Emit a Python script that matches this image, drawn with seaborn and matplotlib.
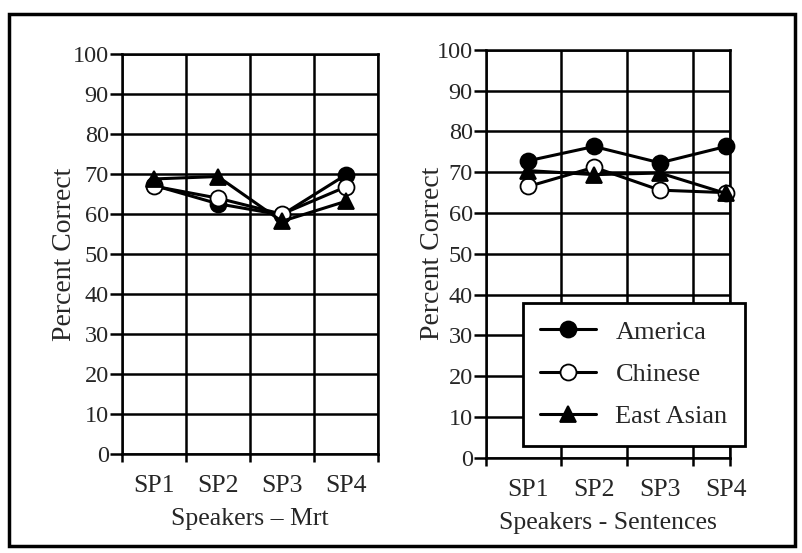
import numpy as np
import pandas as pd
import matplotlib
matplotlib.use("Agg")
import matplotlib.pyplot as plt
import seaborn as sns
from matplotlib.patches import Rectangle

# data
speakers = ["SP1", "SP2", "SP3", "SP4"]
mrt_america = [67.2, 62.6, 59.8, 69.8]
mrt_chinese = [67.0, 64.0, 60.0, 66.8]
mrt_east_asian = [68.8, 69.4, 58.2, 63.2]
sent_america = [72.8, 76.3, 72.3, 76.3]
sent_chinese = [66.5, 71.2, 65.6, 65.0]
sent_east_asian = [70.4, 69.4, 69.8, 64.8]

groups = ["America", "Chinese", "East Asian"]
mrt_values = [mrt_america, mrt_chinese, mrt_east_asian]
sent_values = [sent_america, sent_chinese, sent_east_asian]

sns.set_theme(style="white")
plt.rcParams["font.family"] = ["Liberation Serif", "DejaVu Serif"]

styles = {
    "America": dict(marker="o", markerfacecolor="black"),
    "Chinese": dict(marker="o", markerfacecolor="white"),
    "East Asian": dict(marker="^", markerfacecolor="black"),
}

fig = plt.figure(figsize=(8.02, 5.53), dpi=100)
ax1 = fig.add_axes([0.152, 0.179, 0.319, 0.723])
ax2 = fig.add_axes([0.606, 0.172, 0.304, 0.738])

# outer frame of the scanned figure
fig.add_artist(Rectangle((0.011, 0.013), 0.98, 0.962, transform=fig.transFigure,
                         fill=False, edgecolor="black", linewidth=2.5))


def draw_panel(ax, values, xlim, xlabel):
    x = np.arange(1, len(speakers) + 1)
    for g, vals in zip(groups, values):
        df = pd.DataFrame({"x": x, "y": vals})
        sns.lineplot(data=df, x="x", y="y", ax=ax, color="black", linewidth=2.2,
                     markersize=11.5, markeredgecolor="black", markeredgewidth=1.3,
                     label=g, clip_on=False, zorder=3, **styles[g])
    ax.set_xlim(*xlim)
    ax.set_ylim(0, 100)
    ax.set_yticks(range(0, 101, 10))
    ax.set_xticks(x)
    ax.set_xticklabels(speakers, fontsize=18.5)
    ax.tick_params(axis="x", which="major", length=0, pad=15)
    ax.tick_params(axis="x", which="minor", direction="out", length=6, width=1.8,
                   color="black", bottom=True)
    ax.tick_params(axis="y", direction="out", length=9, width=1.8, color="black",
                   left=True, labelsize=17.5, pad=0.5)
    ax.grid(True, axis="y", color="black", linewidth=1.8)
    ax.grid(True, axis="x", which="minor", color="black", linewidth=1.8)
    for s in ax.spines.values():
        s.set_color("black")
        s.set_linewidth(1.8)
    ax.set_xlabel(xlabel, fontsize=18.5, labelpad=8)
    ax.set_ylabel("Percent Correct", fontsize=20)


draw_panel(ax1, mrt_values, (0.5, 4.5), "Speakers \u2013 Mrt")
ax1.set_xticks(np.arange(0.5, 5.0, 1.0), minor=True)
ax1.yaxis.set_label_coords(-0.177, 0.5)
ax1.get_legend().remove()

draw_panel(ax2, sent_values, (0.36, 4.06), "Speakers - Sentences")
ax2.set_xticks(np.array([0.36, 1.5, 2.5, 3.5, 4.06]), minor=True)
ax2.yaxis.set_label_coords(-0.17, 0.5)
leg = ax2.legend(loc="lower left", bbox_to_anchor=(0.152, 0.03), fontsize=19,
                 frameon=True, fancybox=False, edgecolor="black", framealpha=1,
                 handlelength=2.1, labelspacing=0.72, borderpad=0.65,
                 handletextpad=0.75, borderaxespad=0)
leg.get_frame().set_linewidth(2)
leg.set_zorder(5)

fig.savefig("out.png", dpi=100)
